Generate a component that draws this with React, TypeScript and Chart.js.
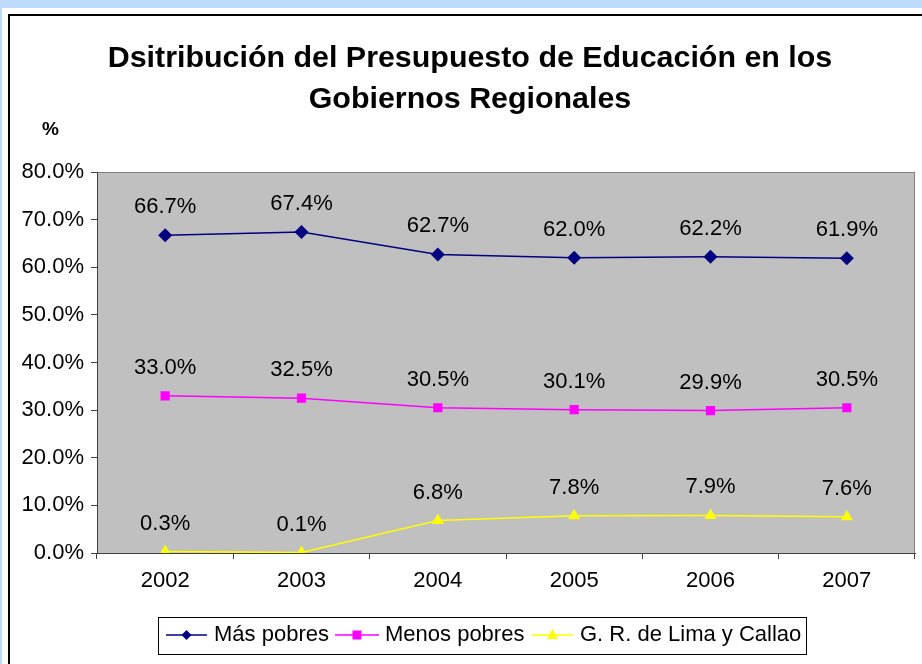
import React, { useEffect, useRef } from "react";
import { Chart, registerables } from "chart.js";

Chart.register(...registerables);

const years = ["2002", "2003", "2004", "2005", "2006", "2007"];
const masPobres = [66.7, 67.4, 62.7, 62.0, 62.2, 61.9];
const menosPobres = [33.0, 32.5, 30.5, 30.1, 29.9, 30.5];
const limaCallao = [0.3, 0.1, 6.8, 7.8, 7.9, 7.6];
const seriesNames = ["Más pobres", "Menos pobres", "G. R. de Lima y Callao"];
const seriesColors = ["#000080", "#ff00ff", "#ffff00"];
const seriesMarkers = ["rectRot", "rect", "triangle"];
const titleLines = ["Dsitribución del Presupuesto de Educación en los", "Gobiernos Regionales"];
const yTickMax = 80;
const yTickStep = 10;

const FONT = "'Liberation Sans', Arial, sans-serif";

const framePlugin = {
  id: "frame",
  beforeDraw(chart: any) {
    const ctx = chart.ctx;
    const { left, top, right, bottom } = chart.chartArea;
    ctx.save();
    ctx.fillStyle = "#bddcfc";
    ctx.fillRect(0, 0, chart.width, chart.height);
    ctx.fillStyle = "#ffffff";
    ctx.fillRect(2, 8, chart.width, chart.height);
    ctx.fillStyle = "#000000";
    ctx.fillRect(8, 14, chart.width, 2);
    ctx.fillRect(8, 14, 2, chart.height);
    ctx.fillStyle = "#c0c0c0";
    ctx.fillRect(left, top, right - left, bottom - top);
    ctx.strokeStyle = "#808080";
    ctx.lineWidth = 1;
    ctx.strokeRect(left + 0.5, top + 0.5, right - left - 1, bottom - top);
    // title
    ctx.fillStyle = "#000";
    ctx.font = `bold 30.4px ${FONT}`;
    ctx.textAlign = "center";
    ctx.textBaseline = "alphabetic";
    ctx.fillText(titleLines[0], 470, 67);
    ctx.fillText(titleLines[1], 470, 108);
    ctx.font = `bold 19px ${FONT}`;
    ctx.textAlign = "left";
    ctx.fillText("%", 42, 135);
    ctx.restore();
  },
  afterDatasetsDraw(chart: any) {
    const ctx = chart.ctx;
    ctx.save();
    ctx.fillStyle = "#000";
    ctx.font = `22px ${FONT}`;
    ctx.textAlign = "center";
    ctx.textBaseline = "middle";
    chart.data.datasets.forEach((ds: any, i: number) => {
      const meta = chart.getDatasetMeta(i);
      meta.data.forEach((pt: any, j: number) => {
        ctx.fillText(ds.data[j].toFixed(1) + "%", pt.x, pt.y - 28);
      });
    });
    ctx.restore();
  },
  afterDraw(chart: any) {
    const ctx = chart.ctx;
    ctx.save();
    // legend
    const bx = 158, by = 617, bw = 648, bh = 37;
    ctx.fillStyle = "#fff";
    ctx.fillRect(bx, by, bw, bh);
    ctx.strokeStyle = "#000";
    ctx.lineWidth = 1;
    ctx.strokeRect(bx + 0.5, by + 0.5, bw, bh);
    const items = [
      { x0: 166, x1: 207, tx: 214 },
      { x0: 335, x1: 379, tx: 385 },
      { x0: 532, x1: 573, tx: 580 },
    ];
    const cy = 635;
    items.forEach((it, i) => {
      ctx.strokeStyle = seriesColors[i];
      ctx.lineWidth = 1.5;
      ctx.beginPath();
      ctx.moveTo(it.x0, cy);
      ctx.lineTo(it.x1, cy);
      ctx.stroke();
      const mx = (it.x0 + it.x1) / 2;
      ctx.fillStyle = seriesColors[i];
      ctx.beginPath();
      if (i === 0) {
        ctx.moveTo(mx, cy - 5);
        ctx.lineTo(mx + 5, cy);
        ctx.lineTo(mx, cy + 5);
        ctx.lineTo(mx - 5, cy);
      } else if (i === 1) {
        ctx.rect(mx - 4.5, cy - 4.5, 9, 9);
      } else {
        ctx.moveTo(mx, cy - 6);
        ctx.lineTo(mx + 5.5, cy + 4);
        ctx.lineTo(mx - 5.5, cy + 4);
      }
      ctx.closePath();
      ctx.fill();
      ctx.fillStyle = "#000";
      ctx.font = `22px ${FONT}`;
      ctx.textAlign = "left";
      ctx.textBaseline = "middle";
      ctx.fillText(seriesNames[i], it.tx, cy);
    });
    ctx.restore();
  },
};

export default function App() {
  const ref = useRef<HTMLCanvasElement | null>(null);
  useEffect(() => {
    if (!ref.current) return;
    const allSeries = [masPobres, menosPobres, limaCallao];
    const radii = [7, 6.5, 7];
    const chart = new Chart(ref.current, {
      type: "line",
      data: {
        labels: years,
        datasets: allSeries.map((d, i) => ({
          label: seriesNames[i],
          data: d,
          borderColor: seriesColors[i],
          backgroundColor: seriesColors[i],
          borderWidth: 1.5,
          pointStyle: seriesMarkers[i] as any,
          pointRadius: radii[i],
          pointBorderWidth: 0,
          tension: 0,
        })),
      },
      options: {
        responsive: false,
        animation: false,
        devicePixelRatio: 1,
        layout: { padding: { left: 0, right: 7, top: 172, bottom: 0 } },
        plugins: { legend: { display: false }, title: { display: false }, tooltip: { enabled: false } },
        scales: {
          x: {
            offset: true,
            grid: { offset: true, drawOnChartArea: false, drawTicks: true, tickLength: 6, color: "#404040" },
            border: { color: "#404040", width: 1 },
            ticks: { color: "#000", font: { family: FONT, size: 22 }, padding: 9 },
            afterFit: (s: any) => { s.height = 111; },
          },
          y: {
            min: 0,
            max: yTickMax,
            grid: { drawOnChartArea: false, drawTicks: true, tickLength: 6, color: "#404040" },
            border: { color: "#404040", width: 1 },
            ticks: {
              stepSize: yTickStep,
              color: "#000",
              font: { family: FONT, size: 22 },
              padding: 7,
              callback: (v: any) => Number(v).toFixed(1) + "%",
            },
            afterFit: (s: any) => { s.width = 97; },
          },
        },
      },
      plugins: [framePlugin],
    });
    return () => chart.destroy();
  }, []);
  return (
    <div style={{ position: "fixed", left: 0, top: 0, width: 922, height: 664 }}>
      <canvas ref={ref} width={922} height={664} style={{ display: "block", width: 922, height: 664 }} />
    </div>
  );
}
